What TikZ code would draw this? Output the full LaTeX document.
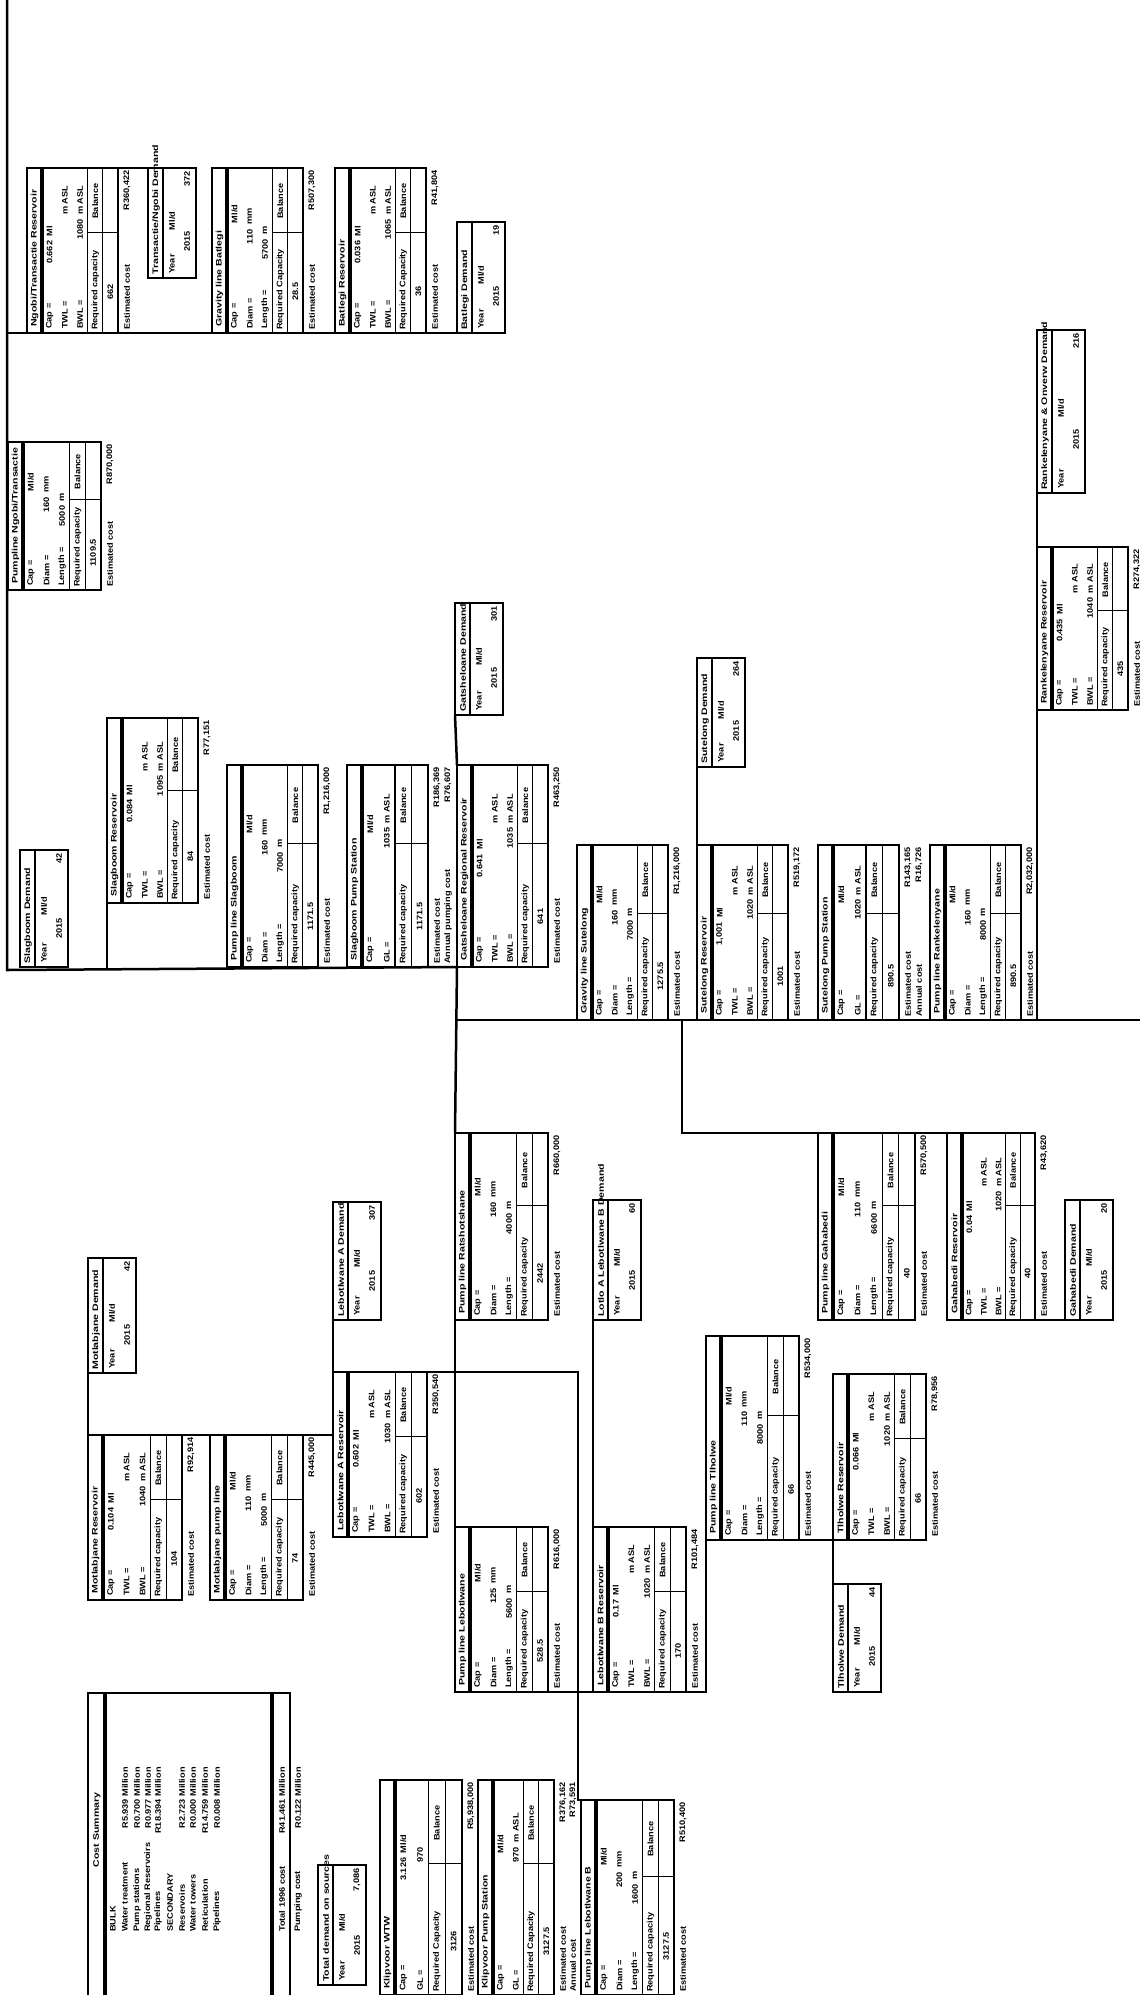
\documentclass[tikz,border=0pt]{standalone}
\usepackage{fontspec}
\setmainfont{Liberation Sans}
\newcommand{\Tab}[7]{%
  \pgfmathsetmacro{\tXL}{#2}\pgfmathsetmacro{\tYT}{#3}\pgfmathsetmacro{\tYB}{#4}%
  \pgfmathsetmacro{\tN}{#6}\pgfmathsetmacro{\tL}{#4-#3}%
  \pgfmathsetmacro{\tP}{(#5-15)/(#6+2)}\pgfmathsetmacro{\tXR}{#2+#5}%
  \node[frame, anchor=north west, minimum width=#5pt, minimum height=\tL pt] (#1) at (#2,#3) {};
  \pgfmathsetmacro{\tA}{#2+15}\pgfmathsetmacro{\tB}{#2+15+\tP*#6}%
  \pgfmathsetmacro{\tC}{#2+15+\tP*(#6+1)}\pgfmathsetmacro{\tD}{#3+0.39*\tL}%
  \draw[sepl] (\tA,#3) -- (\tA,#4);
  \draw[thinl] (\tB,#3) -- (\tB,#4) (\tC,#3) -- (\tC,#4) (\tB,\tD) -- (\tXR,\tD);
  \node[ttl, anchor=west] at ({#2+7.5},{#4-6}) {#7};
}
\newcommand{\TRow}[5]{%
  \pgfmathsetmacro{\rX}{\tXL+15+\tP*(#1-0.5)}%
  \node[tx, anchor=west] at (\rX,{\tYB-4}) {#2};
  \node[tx, anchor=east] at (\rX,{\tYT+#5*\tL}) {#3};
  \node[tx, anchor=west] at (\rX,{\tYT+#5*\tL-4}) {#4};
}
\newcommand{\TReq}[2][Required capacity]{%
  \pgfmathsetmacro{\rX}{\tXL+15+\tP*(\tN+0.5)}%
  \node[tx, anchor=west] at (\rX,{\tYB-3}) {#1};
  \node[tx] at (\rX,{\tYT+0.2*\tL}) {Balance};
  \pgfmathsetmacro{\rX}{\tXL+15+\tP*(\tN+1.5)}%
  \node[tx] at (\rX,{\tYB-0.25*\tL}) {#2};
}
\newcommand{\TCost}[1]{%
  \node[tx, anchor=west] at ({\tXR+9},{\tYB-3}) {Estimated cost};
  \node[tx, anchor=east] at ({\tXR+9},{\tYT+2}) {#1};
}
\newcommand{\TCostB}[2]{%
  \node[tx, anchor=west] at ({\tXR+20},{\tYB-3}) {#1};
  \node[tx, anchor=east] at ({\tXR+20},{\tYT+2}) {#2};
}
\newcommand{\Dem}[7]{%
  \pgfmathsetmacro{\tL}{#4-#3}%
  \node[frame, anchor=north west, minimum width=48pt, minimum height=\tL pt] (#1) at (#2,#3) {};
  \draw[thinl] ({#2+15},#3) -- ({#2+15},#4);
  \node[ttl, anchor=west] at ({#2+8},{#4-3}) {#5};
  \node[tx, anchor=west] at ({#2+24},{#4-4}) {Year};
  \node[tx] at ({#2+24},{#3+0.48*\tL}) {Ml/d};
  \node[tx] at ({#2+39},{#3+0.67*\tL}) {#6};
  \node[tx, anchor=east] at ({#2+39},{#3+3}) {#7};
}
\begin{document}
\begin{tikzpicture}[x=1pt,y=-1pt,
  frame/.style={draw, line width=2.5pt, inner sep=0pt, outer sep=0pt},
  sepl/.style={line width=3.4pt},
  thinl/.style={line width=1.1pt},
  tx/.style={rotate=90, inner sep=0pt, font=\bfseries\fontsize{8}{9}\selectfont, xscale=1.15},
  ttl/.style={tx, xscale=1.15},
  conn/.style={line width=2.5pt}]
\useasboundingbox (0,0) rectangle (1140,1995);
\fill[white] (0,0) rectangle (1140,1995);

% ---------------- top group
\Tab{ngobires}{27}{168}{333}{91}{3}{Ngobi/Transactie Reservoir}
\TRow{1}{Cap =}{0.662}{Ml}{0.44}
\TRow{2}{TWL =}{}{m ASL}{0.31}
\TRow{3}{BWL =}{1080}{m ASL}{0.31}
\TReq{662}\TCost{R360,422}
\Dem{transdem}{148}{168}{278}{Transactie/Ngobi Demand}{2015}{372}
\Tab{gravbat}{212}{168}{333}{91}{3}{Gravity line Batlegi}
\TRow{1}{Cap =}{}{Ml/d}{0.36}
\TRow{2}{Diam =}{110}{mm}{0.37}
\TRow{3}{Length =}{5700}{m}{0.43}
\TReq[Required Capacity]{28.5}\TCost{R507,300}
\Tab{batres}{335}{168}{333}{91}{3}{Batlegi Reservoir}
\TRow{1}{Cap =}{0.036}{Ml}{0.44}
\TRow{2}{TWL =}{}{m ASL}{0.31}
\TRow{3}{BWL =}{1065}{m ASL}{0.31}
\TReq[Required Capacity]{36}\TCost{R41,804}
\Dem{batdem}{457}{222}{333}{Batlegi Demand}{2015}{19}

\Tab{pumpngobi}{8}{442}{590}{93}{3}{Pumpline Ngobi/Transactie}
\TRow{1}{Cap =}{}{Ml/d}{0.36}
\TRow{2}{Diam =}{160}{mm}{0.37}
\TRow{3}{Length =}{5000}{m}{0.43}
\TReq{1109.5}\TCost{R870,000}

% ---------------- Slagboom group
\Dem{slagdem}{20}{850}{967}{Slagboom Demand}{2015}{42}
\Tab{slagres}{107}{718}{903}{91}{3}{Slagboom Reservoir}
\TRow{1}{Cap =}{0.084}{Ml}{0.44}
\TRow{2}{TWL =}{}{m ASL}{0.31}
\TRow{3}{BWL =}{1095}{m ASL}{0.31}
\TReq{84}\TCost{R77,151}
\Tab{pumpslag}{227}{765}{967}{91}{3}{Pump line Slagboom}
\TRow{1}{Cap =}{}{Ml/d}{0.36}
\TRow{2}{Diam =}{160}{mm}{0.37}
\TRow{3}{Length =}{7000}{m}{0.43}
\TReq{1171.5}\TCost{R1,216,000}
\Tab{slagps}{347}{765}{967}{81}{2}{Slagboom Pump Station}
\TRow{1}{Cap =}{}{Ml/d}{0.36}
\TRow{2}{GL =}{1035}{m ASL}{0.31}
\TReq{1171.5}\TCost{R186,369}\TCostB{Annual pumping cost}{R76,607}
\Tab{gatres}{457}{765}{967}{91}{3}{Gatsheloane Regional Reservoir}
\TRow{1}{Cap =}{0.641}{Ml}{0.44}
\TRow{2}{TWL =}{}{m ASL}{0.31}
\TRow{3}{BWL =}{1035}{m ASL}{0.31}
\TReq{641}\TCost{R463,250}
\Dem{gatdem}{455}{603}{715}{Gatsheloane Demand}{2015}{301}

% ---------------- Sutelong group
\Dem{sutdem}{697}{658}{767}{Sutelong Demand}{2015}{264}
\Tab{gravsut}{577}{845}{1020}{91}{3}{Gravity line Sutelong}
\TRow{1}{Cap =}{}{Ml/d}{0.36}
\TRow{2}{Diam =}{160}{mm}{0.37}
\TRow{3}{Length =}{7000}{m}{0.43}
\TReq{1275.5}\TCost{R1,216,000}
\Tab{sutres}{697}{845}{1020}{91}{3}{Sutelong Reservoir}
\TRow{1}{Cap =}{1,001}{Ml}{0.44}
\TRow{2}{TWL =}{}{m ASL}{0.31}
\TRow{3}{BWL =}{1020}{m ASL}{0.31}
\TReq{1001}\TCost{R519,172}
\Tab{sutps}{818}{845}{1020}{81}{2}{Sutelong Pump Station}
\TRow{1}{Cap =}{}{Ml/d}{0.36}
\TRow{2}{GL =}{1020}{m ASL}{0.31}
\TReq{890.5}\TCost{R143,165}\TCostB{Annual cost}{R16,726}
\Tab{pumprank}{930}{845}{1020}{91}{3}{Pump line Rankelenyane}
\TRow{1}{Cap =}{}{Ml/d}{0.36}
\TRow{2}{Diam =}{160}{mm}{0.37}
\TRow{3}{Length =}{8000}{m}{0.43}
\TReq{890.5}\TCost{R2,032,000}
\Tab{rankres}{1037}{547}{710}{91}{3}{Rankelenyane Reservoir}
\TRow{1}{Cap =}{0.435}{Ml}{0.44}
\TRow{2}{TWL =}{}{m ASL}{0.31}
\TRow{3}{BWL =}{1040}{m ASL}{0.31}
\TReq{435}\TCost{R274,322}
\Dem{rankdem}{1037}{330}{493}{Rankelenyane \& Onverw Demand}{2015}{216}

% ---------------- Gahabedi group
\Tab{pumpgah}{818}{1133}{1320}{97}{3}{Pump line Gahabedi}
\TRow{1}{Cap =}{}{Ml/d}{0.36}
\TRow{2}{Diam =}{110}{mm}{0.37}
\TRow{3}{Length =}{6600}{m}{0.43}
\TReq{40}\TCost{R570,500}
\Tab{gahres}{947}{1133}{1320}{88}{3}{Gahabedi Reservoir}
\TRow{1}{Cap =}{0.04}{Ml}{0.44}
\TRow{2}{TWL =}{}{m ASL}{0.31}
\TRow{3}{BWL =}{1020}{m ASL}{0.31}
\TReq{40}\TCost{R43,620}
\Dem{gahdem}{1065}{1200}{1320}{Gahabedi Demand}{2015}{20}

% ---------------- middle trunk
\Tab{pumpX}{455}{1133}{1320}{93}{3}{Pump line Ratshotshane}
\TRow{1}{Cap =}{}{Ml/d}{0.36}
\TRow{2}{Diam =}{160}{mm}{0.37}
\TRow{3}{Length =}{4000}{m}{0.43}
\TReq{2442}\TCost{R660,000}
\Dem{lebAdem}{333}{1202}{1320}{Lebotlwane A Demand}{2015}{307}
\Tab{lebAres}{333}{1372}{1537}{94}{3}{Lebotlwane A Reservoir}
\TRow{1}{Cap =}{0.602}{Ml}{0.44}
\TRow{2}{TWL =}{}{m ASL}{0.31}
\TRow{3}{BWL =}{1030}{m ASL}{0.31}
\TReq{602}\TCost{R350,540}
\Dem{motdem}{88}{1258}{1373}{Motlabjane Demand}{2015}{42}
\Tab{motres}{88}{1435}{1600}{94}{3}{Motlabjane Reservoir}
\TRow{1}{Cap =}{0.104}{Ml}{0.44}
\TRow{2}{TWL =}{}{m ASL}{0.31}
\TRow{3}{BWL =}{1040}{m ASL}{0.31}
\TReq{104}\TCost{R92,914}
\Tab{motpump}{210}{1435}{1600}{93}{3}{Motlabjane pump line}
\TRow{1}{Cap =}{}{Ml/d}{0.36}
\TRow{2}{Diam =}{110}{mm}{0.37}
\TRow{3}{Length =}{5000}{m}{0.43}
\TReq{74}\TCost{R445,000}
\Dem{lebBdem}{593}{1200}{1320}{Lotlo A Lebotlwane B Demand}{2015}{60}
\Tab{pumpleb}{455}{1527}{1692}{93}{3}{Pump line Lebotlwane}
\TRow{1}{Cap =}{}{Ml/d}{0.36}
\TRow{2}{Diam =}{125}{mm}{0.37}
\TRow{3}{Length =}{5600}{m}{0.43}
\TReq{528.5}\TCost{R616,000}
\Tab{lebBres}{593}{1527}{1692}{93}{3}{Lebotlwane B Reservoir}
\TRow{1}{Cap =}{0.17}{Ml}{0.44}
\TRow{2}{TWL =}{}{m ASL}{0.31}
\TRow{3}{BWL =}{1020}{m ASL}{0.31}
\TReq{170}\TCost{R101,484}
\Tab{pumptlh}{706}{1336}{1540}{93}{3}{Pump line Tlholwe}
\TRow{1}{Cap =}{}{Ml/d}{0.36}
\TRow{2}{Diam =}{110}{mm}{0.37}
\TRow{3}{Length =}{8000}{m}{0.43}
\TReq{66}\TCost{R534,000}
\Tab{tlhres}{833}{1374}{1540}{93}{3}{Tlholwe Reservoir}
\TRow{1}{Cap =}{0.066}{Ml}{0.44}
\TRow{2}{TWL =}{}{m ASL}{0.31}
\TRow{3}{BWL =}{1020}{m ASL}{0.31}
\TReq{66}\TCost{R78,956}
\Dem{tlhdem}{833}{1584}{1692}{Tlholwe Demand}{2015}{44}

% ---------------- source
\Dem{totdem}{318}{1865}{1985}{Total demand on sources}{2015}{7,086}
\Tab{klipwtw}{380}{1780}{1995}{82}{2}{Klipvoor WTW}
\TRow{1}{Cap =}{3.126}{Ml/d}{0.36}
\TRow{2}{GL =}{970}{}{0.31}
\TReq[Required Capacity]{3126}\TCost{R5,938,000}
\Tab{klipps}{478}{1780}{1995}{76}{2}{Klipvoor Pump Station}
\TRow{1}{Cap =}{}{Ml/d}{0.36}
\TRow{2}{GL =}{970}{m ASL}{0.31}
\TReq[Required Capacity]{3127.5}\TCost{R376,162}
\node[tx, anchor=west] at ({\tXR+19},{\tYB-3}) {Annual cost};
\node[tx, anchor=east] at ({\tXR+19},{\tYT+2}) {R73,591};
\Tab{pumpklip}{581}{1800}{1995}{93}{3}{Pump line Lebotlwane B}
\TRow{1}{Cap =}{}{Ml/d}{0.36}
\TRow{2}{Diam =}{200}{mm}{0.37}
\TRow{3}{Length =}{1600}{m}{0.43}
\TReq{3127.5}\TCost{R510,400}

% cost summary
\node[frame, anchor=north west, minimum width=202pt, minimum height=320pt] (cost) at (88,1693) {};
\draw[sepl] (105,1693) -- (105,2013);
\draw[sepl] (272,1693) -- (272,2013);
\node[ttl] at (97,1830) {Cost Summary};
\foreach \xx/\lab/\val in {113/BULK/,125/Water treatment/R5.939 Million,137/Pump stations/R0.700 Million,
  148/Regional Reservoirs/R0.977 Million,158/Pipelines/R18.394 Million,170/SECONDARY/,
  182/Reservoirs/R2.723 Million,193/Water towers/R0.000 Million,205/Reticulation/R14.759 Million,
  217/Pipelines/R0.008 Million,282/Total 1996 cost/R41.461 Million,298/Pumping cost/R0.122 Million}{
  \node[tx, anchor=west] at (\xx,1932) {\lab};
  \node[tx, anchor=east] at (\xx,1767) {\val};
}

% ---------------- connectors
\coordinate (t0) at (7,0);
\coordinate (t1) at (7,970);
\draw[conn] (t0) -- (t1) -- (gatres.south west);
\draw[conn] (7,333) -- (batdem.south west);
\draw[conn] (ngobires.north east) -- (transdem.north west);
\draw[conn] (slagres.south west) -- (107,970);
\draw[conn] (gatdem.south west) -- (gatres.north west);
\draw[conn] (gatres.south west) -- (pumpX.north west);
\draw[conn] (455,1020) -- (1140,1020);
\draw[conn] (sutdem.south west) -- (sutres.north west);
\draw[conn] (682,1020) -- (682,1133) -- (pumpgah.north west);
\draw[conn] (pumpgah.north east) -- (gahres.north west);
\draw[conn] (gahres.south east) -- (gahdem.south west);
\draw[conn] (rankdem.south west) -- (rankres.north west);
\draw[conn] (rankres.south west) -- (1037,1020);
\draw[conn] (pumpX.south west) -- (455,1372) -- (pumpleb.north west);
\draw[conn] (lebAdem.south west) -- (lebAres.north west);
\draw[conn] (lebAres.north west) -- (578,1372) -- (578,1800) -- (pumpklip.north west);
\draw[conn] (motdem.south west) -- (motres.north west);
\draw[conn] (motres.north east) -- (motpump.north west);
\draw[conn] (motpump.north east) -- (333,1435);
\draw[conn] (lebBdem.south west) -- (lebBres.north west);
\draw[conn] (pumpleb.south west) -- (706,1692) -- (pumptlh.south west);
\draw[conn] (pumptlh.south east) -- (tlhres.south west) -- (tlhdem.north west);
\end{tikzpicture}
\end{document}
